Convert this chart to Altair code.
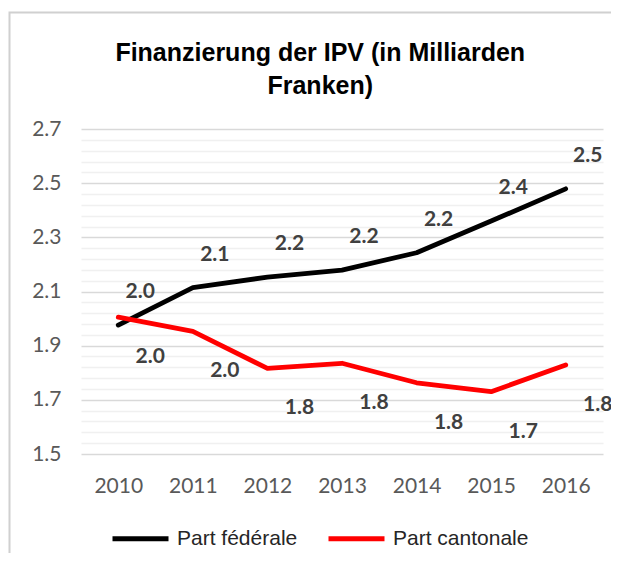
import altair as alt
import pandas as pd

years = ["2010", "2011", "2012", "2013", "2014", "2015", "2016"]
federal = [1.976, 2.114, 2.153, 2.179, 2.243, 2.360, 2.479]
cantonal = [2.005, 1.953, 1.816, 1.835, 1.763, 1.730, 1.829]
federal_labels = ["2.0", "2.1", "2.2", "2.2", "2.2", "2.4", "2.5"]
cantonal_labels = ["2.0", "2.0", "1.8", "1.8", "1.8", "1.7", "1.8"]
series_names = ["Part fédérale", "Part cantonale"]
series_colors = ["#000000", "#ff0000"]
y_min, y_max, y_major, y_minor = 1.5, 2.7, 0.2, 0.04
title_text = ["Finanzierung der IPV (in Milliarden", "Franken)"]

rows = []
for s, vals, labs in [(series_names[0], federal, federal_labels),
                      (series_names[1], cantonal, cantonal_labels)]:
    for yr, v, l in zip(years, vals, labs):
        rows.append({"year": yr, "value": v, "series": s, "label": l})
df = pd.DataFrame(rows)

n_minor = int(round((y_max - y_min) / y_minor))
grid_values = [round(y_min + i * y_minor, 2) for i in range(n_minor + 1)]
major_test = (f"abs((datum.value - {y_min}) / {y_major} - "
              f"round((datum.value - {y_min}) / {y_major})) < 0.01")

x_enc = alt.X(
    "year:O",
    sort=years,
    scale=alt.Scale(type="point", padding=0.5),
    axis=alt.Axis(title=None, labelAngle=0, ticks=False, domain=False, grid=False,
                  labelFont="Lato", labelFontSize=21, labelColor="#595959",
                  labelPadding=21),
)
y_enc = alt.Y(
    "value:Q",
    scale=alt.Scale(domain=[y_min, y_max], nice=False, zero=False),
    axis=alt.Axis(title=None, values=grid_values, ticks=False, domain=False, grid=True,
                  gridColor={"condition": {"test": major_test, "value": "#d9d9d9"},
                             "value": "#f0f0f0"},
                  gridWidth=1.3,
                  labelExpr=f"{major_test} ? format(datum.value, '.1f') : ''",
                  labelOverlap=False, labelFont="Lato", labelFontSize=21,
                  labelColor="#595959", labelPadding=20),
)

base = alt.Chart(df)

lines = base.mark_line(strokeWidth=4.8, strokeCap="round", strokeJoin="round").encode(
    x=x_enc,
    y=y_enc,
    color=alt.Color(
        "series:N",
        scale=alt.Scale(domain=series_names, range=series_colors),
        legend=alt.Legend(title=None, orient="none", legendX=29, legendY=379,
                          direction="horizontal",
                          symbolType="stroke", symbolSize=3136, symbolStrokeWidth=5,
                          labelFont="Liberation Sans", labelFontSize=21,
                          labelColor="#262626", labelOffset=6, columnPadding=20),
    ),
)

text_style = dict(font="Lato", fontSize=21, fontWeight="bold", color="#404040",
                  baseline="middle", align="center")

text_fed = base.transform_filter(alt.datum.series == series_names[0]).mark_text(
    dx=22, dy=-33, **text_style).encode(x=x_enc, y=y_enc, text="label:N")
text_can = base.transform_filter(alt.datum.series == series_names[1]).mark_text(
    dx=32, dy=40, **text_style).encode(x=x_enc, y=y_enc, text="label:N")

# chart-area frame: only its top and left edges fall inside the picture
dummy = alt.Chart(pd.DataFrame({"a": [0]}))
frame = dummy.mark_rect(fillOpacity=0, stroke="#d0d0d0", strokeWidth=2).encode(
    x=alt.value(-71.5), x2=alt.value(560), y=alt.value(-116.5), y2=alt.value(470))

chart = alt.layer(frame, lines, text_fed, text_can).properties(
    width=522,
    height=325,
    padding={"left": 73, "top": 121, "right": 8, "bottom": 99},
    autosize=alt.AutoSizeParams(type="none"),
    title=alt.TitleParams(text=title_text, font="Liberation Sans", fontSize=25,
                          fontWeight="bold", color="#000000", anchor="middle",
                          frame="bounds", lineHeight=33, offset=-87, dx=-5),
).configure_view(stroke=None)

chart.save("out.html", embed_options={"renderer": "svg", "actions": False})
